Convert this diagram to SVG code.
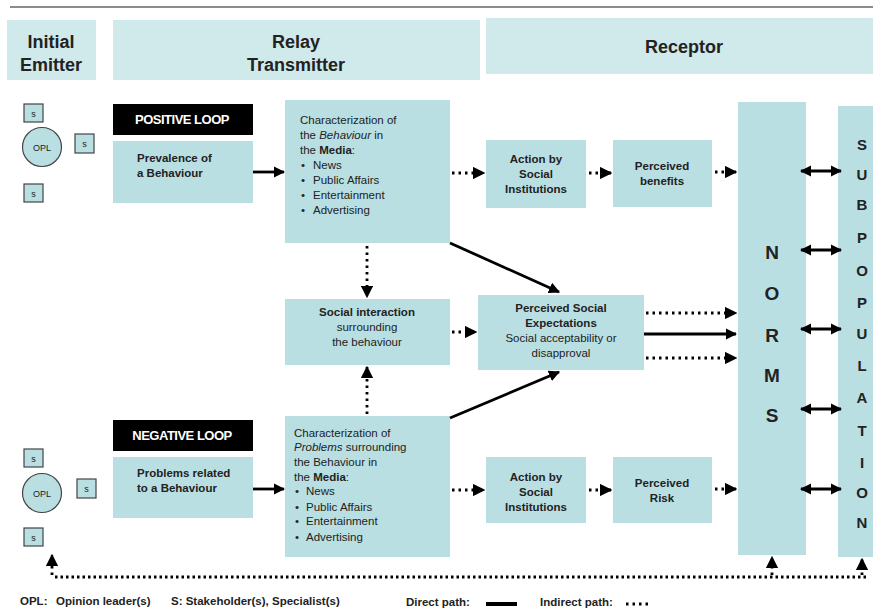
<svg xmlns="http://www.w3.org/2000/svg" width="873" height="610" viewBox="0 0 873 610">
<defs>
<marker id="ah" viewBox="0 0 10 10" refX="9" refY="5" markerWidth="4" markerHeight="4" orient="auto-start-reverse" markerUnits="strokeWidth">
<path d="M0,0 L10,5 L0,10 z" fill="#000"/>
</marker>
<marker id="ahd" viewBox="0 0 10 10" refX="9" refY="5" markerWidth="4.5" markerHeight="4.5" orient="auto-start-reverse" markerUnits="strokeWidth">
<path d="M0,0 L10,5 L0,10 z" fill="#000"/>
</marker>
<style>
.hdr{fill:#d0e9eb}
.box{fill:#b9dfe3}
.blk{fill:#000}
.t{font-family:"Liberation Sans",Arial,sans-serif;fill:#222;font-size:11.5px}
.b{font-weight:bold}
.h{font-family:"Liberation Sans",Arial,sans-serif;font-weight:bold;font-size:18px;fill:#222;text-anchor:middle}
.loop{font-family:"Liberation Sans",Arial,sans-serif;font-weight:bold;font-size:13px;fill:#fff;text-anchor:middle;letter-spacing:-0.5px}
.c{text-anchor:middle}
.sb{fill:#b9dfe3;stroke:#444;stroke-width:1.2}
.st{font-family:"Liberation Sans",Arial,sans-serif;font-size:9px;fill:#222;text-anchor:middle}
.big{font-family:"Liberation Sans",Arial,sans-serif;font-weight:bold;font-size:19px;fill:#222;text-anchor:middle}
.sub{font-family:"Liberation Sans",Arial,sans-serif;font-weight:bold;font-size:15px;fill:#222;text-anchor:middle}
.solid{stroke:#000;stroke-width:2.8;fill:none;marker-end:url(#ah)}
.dot{stroke:#000;stroke-width:2.8;fill:none;stroke-dasharray:2.5 4;marker-end:url(#ahd)}
.dbl{stroke:#000;stroke-width:2.8;fill:none;marker-end:url(#ah);marker-start:url(#ah)}
</style>
</defs>
<rect width="873" height="610" fill="#fff"/>
<line x1="10" y1="7" x2="873" y2="7" stroke="#666" stroke-width="1.5"/>

<g id="hdr-emitter"><rect class="hdr" x="7" y="20" width="89" height="60"/><text class="h" x="51" y="48">Initial</text><text class="h" x="51" y="71">Emitter</text></g>
<g id="hdr-relay"><rect class="hdr" x="113" y="20" width="367" height="60"/><text class="h" x="296" y="48">Relay</text><text class="h" x="296" y="71">Transmitter</text></g>
<g id="hdr-receptor"><rect class="hdr" x="486" y="18" width="387" height="56"/><text class="h" x="684" y="53">Receptor</text></g>

<g id="emitter-top">
<rect class="sb" x="24" y="104" width="19" height="18"/><text class="st" x="33.5" y="117">s</text>
<circle class="sb" cx="42" cy="147" r="19.5"/><text class="st" x="42" y="150.5">OPL</text>
<rect class="sb" x="75" y="134" width="19" height="19"/><text class="st" x="84.5" y="147">s</text>
<rect class="sb" x="24" y="184" width="19" height="18"/><text class="st" x="33.5" y="197">s</text>
</g>
<g id="emitter-bottom">
<rect class="sb" x="24" y="449" width="19" height="18"/><text class="st" x="33.5" y="462">s</text>
<circle class="sb" cx="42" cy="493" r="19.5"/><text class="st" x="42" y="496.5">OPL</text>
<rect class="sb" x="77" y="479" width="19" height="19"/><text class="st" x="86.5" y="492">s</text>
<rect class="sb" x="24" y="528" width="19" height="18"/><text class="st" x="33.5" y="541">s</text>
</g>

<g id="positive-loop"><rect class="blk" x="113" y="104" width="140" height="31"/><text class="loop" x="182" y="124">POSITIVE LOOP</text></g>
<g id="prevalence"><rect class="box" x="113" y="141" width="140" height="62"/><text class="t b" x="137" y="162">Prevalence of</text><text class="t b" x="137" y="177">a Behaviour</text></g>

<g id="char-behaviour"><rect class="box" x="285" y="100" width="165" height="143"/>
<text class="t" x="300" y="124">Characterization of</text>
<text class="t" x="300" y="139">the <tspan font-style="italic">Behaviour</tspan> in</text>
<text class="t" x="300" y="154">the <tspan font-weight="bold">Media</tspan>:</text>
<text class="t" y="169"><tspan x="301">•</tspan><tspan x="313">News</tspan></text>
<text class="t" y="184"><tspan x="301">•</tspan><tspan x="313">Public Affairs</tspan></text>
<text class="t" y="199"><tspan x="301">•</tspan><tspan x="313">Entertainment</tspan></text>
<text class="t" y="214"><tspan x="301">•</tspan><tspan x="313">Advertising</tspan></text>
</g>

<g id="action-top"><rect class="box" x="486" y="140" width="100" height="68"/><text class="t b c" x="536" y="163">Action by</text><text class="t b c" x="536" y="178">Social</text><text class="t b c" x="536" y="193">Institutions</text></g>
<g id="benefits"><rect class="box" x="613" y="140" width="99" height="67"/><text class="t b c" x="662" y="170">Perceived</text><text class="t b c" x="662" y="185">benefits</text></g>

<g id="social-interaction"><rect class="box" x="285" y="299" width="165" height="66"/><text class="t b c" x="367" y="316">Social interaction</text><text class="t c" x="367" y="331">surrounding</text><text class="t c" x="367" y="346">the behaviour</text></g>
<g id="pse"><rect class="box" x="478" y="295" width="166" height="75"/><text class="t b c" x="561" y="312">Perceived Social</text><text class="t b c" x="561" y="327">Expectations</text><text class="t c" x="561" y="342">Social acceptability or</text><text class="t c" x="561" y="357">disapproval</text></g>

<g id="negative-loop"><rect class="blk" x="113" y="420" width="140" height="31"/><text class="loop" x="182" y="440">NEGATIVE LOOP</text></g>
<g id="problems"><rect class="box" x="113" y="457" width="140" height="61"/><text class="t b" x="137" y="477">Problems related</text><text class="t b" x="137" y="492">to a Behaviour</text></g>

<g id="char-problems"><rect class="box" x="285" y="416" width="165" height="141"/>
<text class="t" x="294" y="437">Characterization of</text>
<text class="t" x="294" y="451"><tspan font-style="italic">Problems</tspan> surrounding</text>
<text class="t" x="294" y="466">the Behaviour in</text>
<text class="t" x="294" y="481">the <tspan font-weight="bold">Media</tspan>:</text>
<text class="t" y="495"><tspan x="295">•</tspan><tspan x="306">News</tspan></text>
<text class="t" y="511"><tspan x="295">•</tspan><tspan x="306">Public Affairs</tspan></text>
<text class="t" y="525"><tspan x="295">•</tspan><tspan x="306">Entertainment</tspan></text>
<text class="t" y="541"><tspan x="295">•</tspan><tspan x="306">Advertising</tspan></text>
</g>

<g id="action-bottom"><rect class="box" x="486" y="457" width="100" height="66"/><text class="t b c" x="536" y="481">Action by</text><text class="t b c" x="536" y="496">Social</text><text class="t b c" x="536" y="511">Institutions</text></g>
<g id="risk"><rect class="box" x="613" y="457" width="99" height="66"/><text class="t b c" x="662" y="487">Perceived</text><text class="t b c" x="662" y="502">Risk</text></g>

<g id="norms"><rect class="box" x="738" y="102" width="68" height="453"/>
<text class="big" x="772" y="259">N</text><text class="big" x="772" y="300">O</text><text class="big" x="772" y="342">R</text><text class="big" x="772" y="382">M</text><text class="big" x="772" y="422">S</text></g>

<g id="subpopulation"><rect class="box" x="838" y="106" width="35" height="451"/>
<text class="sub" x="862" y="150">S</text><text class="sub" x="862" y="180">U</text><text class="sub" x="862" y="210">B</text><text class="sub" x="862" y="243">P</text><text class="sub" x="862" y="276">O</text><text class="sub" x="862" y="308">P</text><text class="sub" x="862" y="339">U</text><text class="sub" x="862" y="371">L</text><text class="sub" x="862" y="403">A</text><text class="sub" x="862" y="436">T</text><text class="sub" x="862" y="468">I</text><text class="sub" x="862" y="498">O</text><text class="sub" x="862" y="528">N</text></g>

<g id="connectors">
<line class="solid" x1="253" y1="172" x2="284" y2="172"/>
<line class="solid" x1="253" y1="489" x2="284" y2="489"/>
<line class="dot" x1="452" y1="173" x2="484" y2="173"/>
<line class="dot" x1="589" y1="173" x2="611" y2="173"/>
<line class="dot" x1="715" y1="172" x2="736" y2="172"/>
<line class="dot" x1="452" y1="490" x2="484" y2="490"/>
<line class="dot" x1="589" y1="490" x2="611" y2="490"/>
<line class="dot" x1="715" y1="489" x2="736" y2="489"/>
<line class="dot" x1="367" y1="246" x2="367" y2="297"/>
<line class="dot" x1="367" y1="414" x2="367" y2="367"/>
<line class="dot" x1="452" y1="332" x2="476" y2="332"/>
<line class="solid" x1="450" y1="243" x2="559" y2="292"/>
<line class="solid" x1="450" y1="418" x2="559" y2="372"/>
<line class="dot" x1="646" y1="313" x2="736" y2="313"/>
<line class="solid" x1="644" y1="334" x2="736" y2="334"/>
<line class="dot" x1="646" y1="358" x2="736" y2="358"/>
<line class="dbl" x1="801" y1="171" x2="841" y2="171"/>
<line class="dbl" x1="801" y1="250" x2="841" y2="250"/>
<line class="dbl" x1="801" y1="329" x2="841" y2="329"/>
<line class="dbl" x1="801" y1="409" x2="841" y2="409"/>
<line class="dbl" x1="801" y1="489" x2="841" y2="489"/>
<path d="M866,577 L52,577" stroke="#000" stroke-width="2.8" fill="none" stroke-dasharray="2.5 3"/>
<line class="dot" x1="52" y1="575" x2="52" y2="555"/>
<line class="dot" x1="772" y1="575" x2="772" y2="557"/>
<line class="dot" x1="862" y1="575" x2="862" y2="559"/>
</g>

<g id="legend">
<text class="t b" y="605" font-size="11px"><tspan x="20">OPL:</tspan><tspan x="56">Opinion leader(s)</tspan><tspan x="171">S: Stakeholder(s), Specialist(s)</tspan></text>
<text class="t b" x="406" y="606" font-size="11px">Direct path:</text>
<line x1="486" y1="604" x2="517" y2="604" stroke="#000" stroke-width="4"/>
<text class="t b" x="540" y="606" font-size="11px">Indirect path:</text>
<line x1="626" y1="604" x2="652" y2="604" stroke="#000" stroke-width="2.8" stroke-dasharray="2.5 4"/>
</g>
</svg>
